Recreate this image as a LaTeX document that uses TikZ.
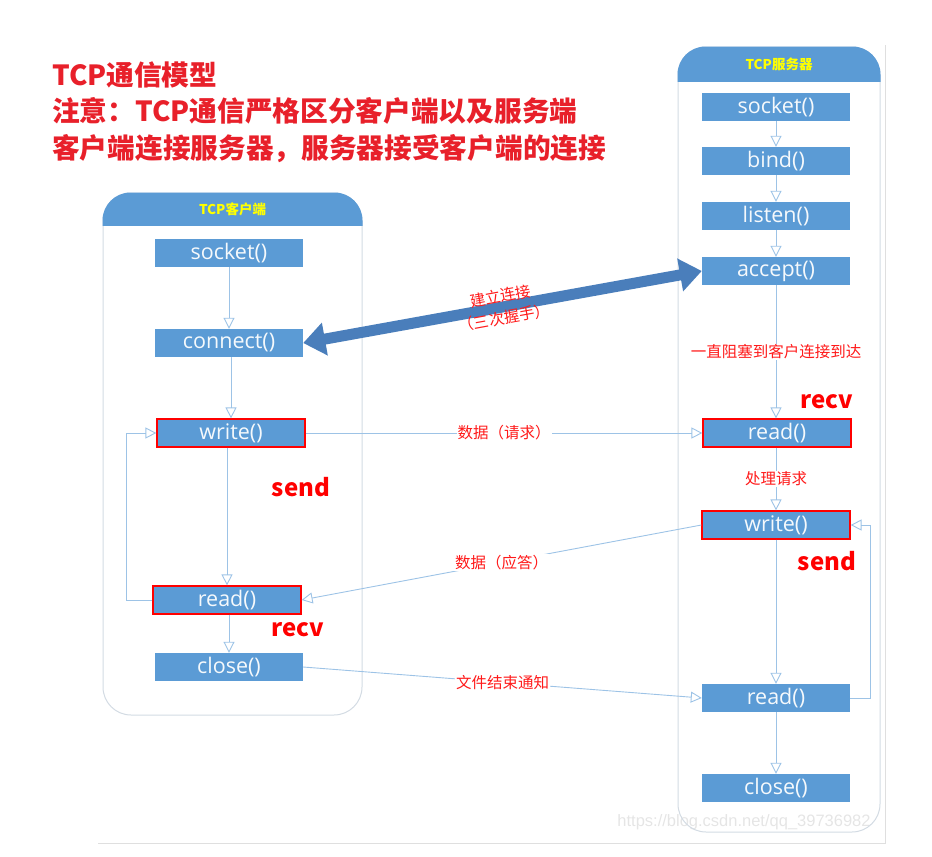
\documentclass[tikz,border=0pt]{standalone}
\usepackage{fontspec}
\setmainfont{Open Sans}
\newfontfamily\cjk{Noto Sans CJK SC}
\newfontfamily\marksans{Liberation Sans}
\usepackage{tikz}
\usetikzlibrary{arrows.meta, positioning}

\definecolor{boxblue}{HTML}{5B9BD5}
\definecolor{linkblue}{HTML}{9DC3E6}
\definecolor{pipeblue}{HTML}{4A7EBB}
\definecolor{panelgray}{HTML}{D3DBE3}
\definecolor{notered}{HTML}{FF1A1A}
\definecolor{titlered}{HTML}{E8202A}
\definecolor{headyellow}{HTML}{FFFF00}

\begin{document}
\begin{tikzpicture}[x=1pt, y=-1pt,
        fn/.style={rectangle, fill=boxblue, minimum width=148pt, minimum height=28pt, inner sep=0pt, text=white!94!boxblue, font=\fontsize{21.5}{21.5}\selectfont},
        hot/.style={fn, draw=red, line width=1.2pt},
        panel/.style={rectangle, draw=panelgray, line width=1pt, rounded corners=28pt, inner sep=0pt},
        head/.style={text=headyellow, font=\cjk\bfseries\fontsize{13.5}{14}\selectfont},
        link/.style={draw=linkblue, line width=0.9pt, -{Triangle[open, length=11pt, width=11pt]}},
        pipe/.style={draw=pipeblue, line width=11pt, {Triangle[length=22pt, width=32pt]}-{Triangle[length=22pt, width=32pt]}},
        note/.style={text=notered, fill=white, inner sep=1pt, font=\cjk\fontsize{15.5}{17}\selectfont},
        tag/.style={text=red, font=\cjk\bfseries\fontsize{24}{24}\selectfont}
    ]
        \useasboundingbox (0,0) rectangle (932,857);

        % screenshot frame and watermark
        \draw[gray!25, line width=1pt] (885,45) -- (885,843) -- (98,843);
        \node[text=gray!20, font=\marksans\fontsize{16.5}{16.5}\selectfont] (mark) at (744,822) {https://blog.csdn.net/qq\_39736982};

        % title
        \node[anchor=west, align=left, inner sep=0pt, text=titlered, font=\cjk\bfseries\fontsize{27.7}{36.5}\selectfont] (title) at (52,112)
            {TCP通信模型\\注意：TCP通信严格区分客户端以及服务端\\客户端连接服务器，服务器接受客户端的连接};

        % panels
        \node[panel, minimum width=259pt, minimum height=522pt] (client) at (232.5,454) {};
        \node[panel, minimum width=202pt, minimum height=785pt] (server) at (779,439.5) {};
        \begin{scope}
            \clip (client.north west) rectangle ([yshift=-33pt]client.north east);
            \fill[boxblue, rounded corners=28pt] (client.north west) rectangle (client.south east);
        \end{scope}
        \begin{scope}
            \clip (server.north west) rectangle ([yshift=-35pt]server.north east);
            \fill[boxblue, rounded corners=28pt] (server.north west) rectangle (server.south east);
        \end{scope}
        \node[head] (clienthead) at (232.5,209.5) {TCP客户端};
        \node[head] (serverhead) at (779,64) {TCP服务器};

        % client calls
        \node[fn]  (csock) at (229,253) {socket()};
        \node[fn]  (cconn) at (229,343) {connect()};
        \node[hot] (cwr)   at (231,433) {write()};
        \node[hot] (crd)   at (227,600) {read()};
        \node[fn]  (ccl)   at (229,667) {close()};

        % server calls
        \node[fn]  (ssock) at (776,107) {socket()};
        \node[fn]  (sbind) at (776,161) {bind()};
        \node[fn]  (slst)  at (776,216) {listen()};
        \node[fn]  (sacc)  at (776,271) {accept()};
        \node[hot] (srd)   at (777,433) {read()};
        \node[hot] (swr)   at (776,525) {write()};
        \node[fn]  (srd2)  at (776,698) {read()};
        \node[fn]  (scl)   at (776,788) {close()};

        % client flow
        \draw[link] (csock) -- (cconn);
        \draw[link] (cconn) -- (cwr.south |- cconn.south) -- (cwr.north);
        \draw[link] (cwr.south -| crd.north) -- (crd.north);
        \draw[link] (crd.south -| ccl.north) -- (ccl.north);
        \draw[link] (crd.west) -- ++(-26,0) |- (cwr.west);

        % server flow
        \draw[link] (ssock) -- (sbind);
        \draw[link] (sbind) -- (slst);
        \draw[link] (slst) -- (sacc);
        \draw[link] (sacc.south) -- (srd.north -| sacc.south)
            node[midway, note] {一直阻塞到客户连接到达};
        \draw[link] (srd.south -| swr.north) -- (swr.north) node[midway, note] {处理请求};
        \draw[link] (swr.south) -- (srd2.north);
        \draw[link] (srd2) -- (scl);
        \draw[link] (srd2.east) -- ++(20,0) |- (swr.east);

        % between the two
        \draw[pipe] (cconn.east) -- (sacc.west)
            node[midway, sloped, align=center, text=notered, font=\cjk\fontsize{15.5}{22}\selectfont] {建立连接\\（三次握手）};
        \draw[link] (cwr.east) -- (srd.west) node[midway, note] {数据（请求）};
        \draw[link] (swr.west) -- (crd.east) node[midway, note] {数据（应答）};
        \draw[link] (ccl.east) -- (srd2.west) node[midway, note] {文件结束通知};

        % send / recv tags
        \node[tag] (csend) at (301,487) {send};
        \node[tag] (crecv) at (298,630) {recv};
        \node[tag] (srecv) at (827,402) {recv};
        \node[tag] (ssend) at (827,561) {send};
    \end{tikzpicture}
\end{document}
